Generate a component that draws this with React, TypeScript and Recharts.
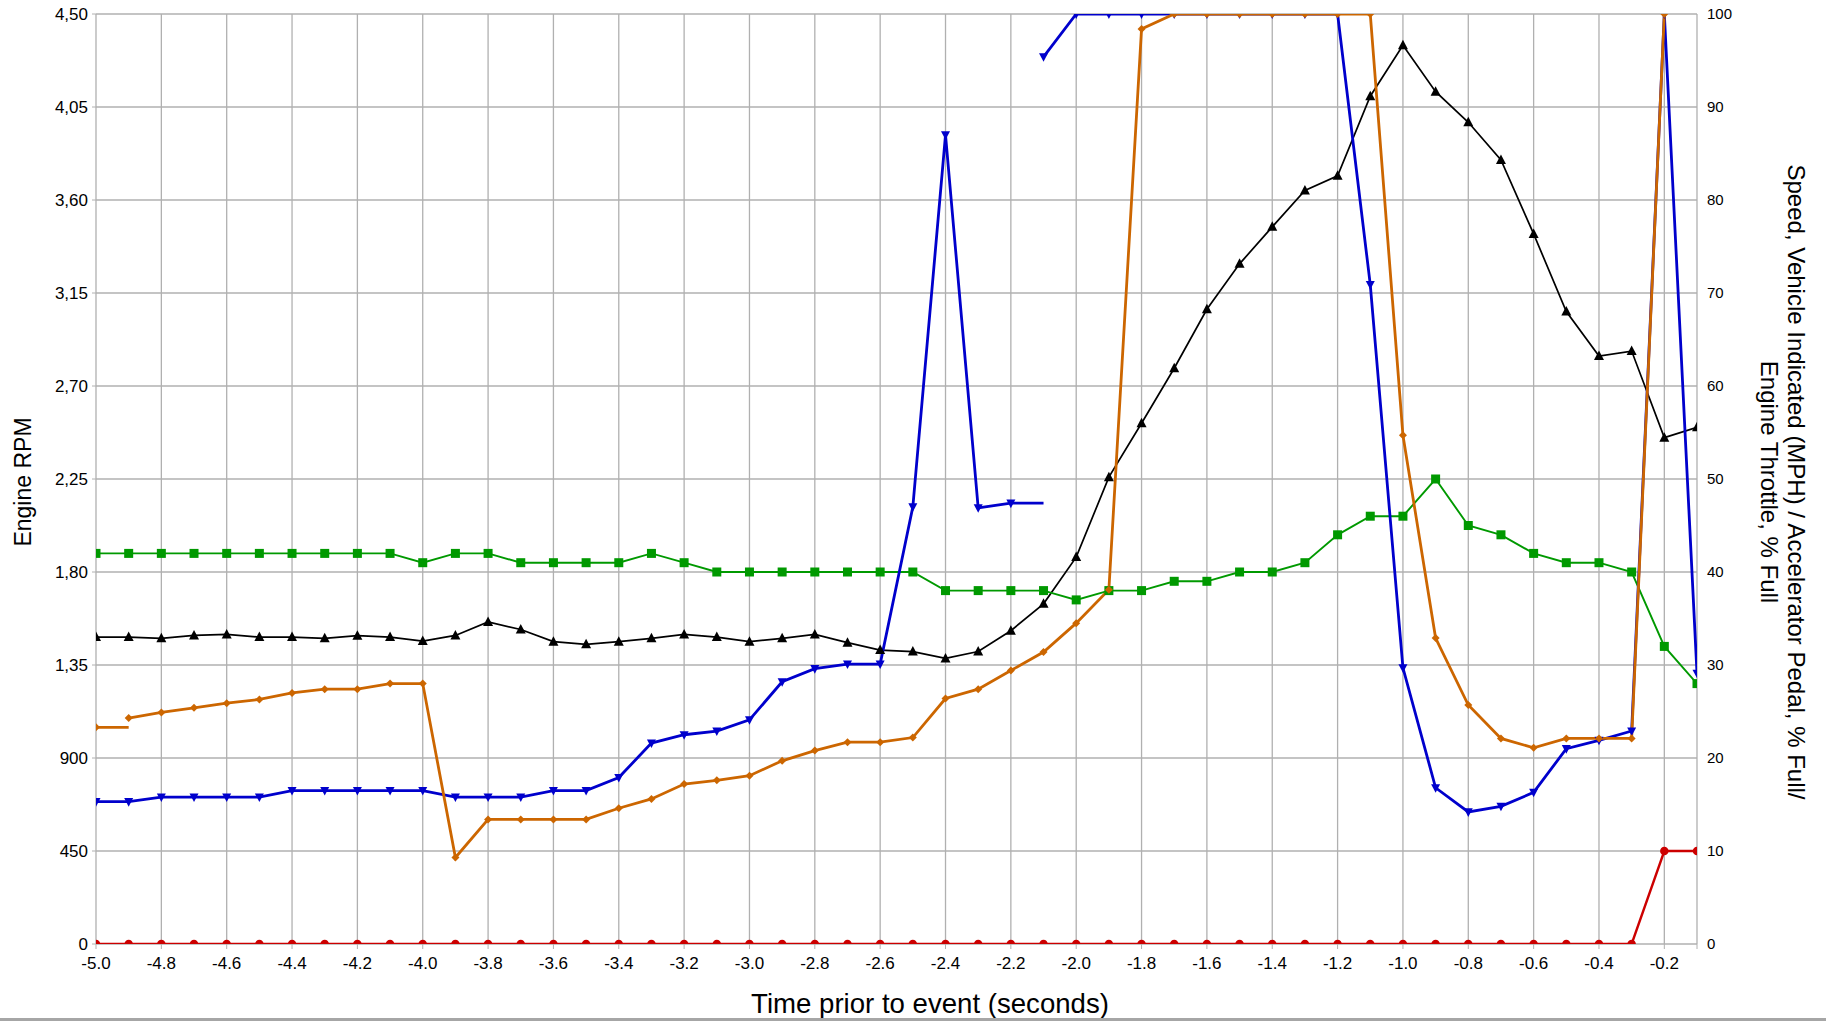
import React from "react";
import {
  LineChart,
  Line,
  XAxis,
  YAxis,
  CartesianGrid,
} from "recharts";

// time axis (seconds before the event)
const time = [
  -5.0, -4.9, -4.8, -4.7, -4.6, -4.5, -4.4, -4.3, -4.2, -4.1,
  -4.0, -3.9, -3.8, -3.7, -3.6, -3.5, -3.4, -3.3, -3.2, -3.1,
  -3.0, -2.9, -2.8, -2.7, -2.6, -2.5, -2.4, -2.3, -2.2, -2.1,
  -2.0, -1.9, -1.8, -1.7, -1.6, -1.5, -1.4, -1.3, -1.2, -1.1,
  -1.0, -0.9, -0.8, -0.7, -0.6, -0.5, -0.4, -0.3, -0.2, -0.1,
];

// Engine RPM (left axis)
const engineRpm = [
  1485, 1485, 1479, 1493, 1498, 1485, 1485, 1479, 1492, 1485,
  1466, 1493, 1558, 1522, 1463, 1450, 1463, 1479, 1498, 1485,
  1463, 1479, 1498, 1458, 1422, 1415, 1382, 1415, 1516, 1646,
  1872, 2259, 2520, 2786, 3071, 3291, 3470, 3646, 3717, 4102,
  4349, 4124, 3976, 3794, 3436, 3060, 2845, 2869, 2450, 2500,
];

// Speed, vehicle indicated (MPH)
const speed = [
  42, 42, 42, 42, 42, 42, 42, 42, 42, 42,
  41, 42, 42, 41, 41, 41, 41, 42, 41, 40,
  40, 40, 40, 40, 40, 40, 38, 38, 38, 38,
  37, 38, 38, 39, 39, 40, 40, 41, 44, 46,
  46, 50, 45, 44, 42, 41, 41, 40, 32, 28,
];

// Accelerator pedal, % full (two recorded runs)
const pedalEarly = [
  15.3, 15.3, 15.8, 15.8, 15.8, 15.8, 16.5, 16.5, 16.5, 16.5,
  16.5, 15.8, 15.8, 15.8, 16.5, 16.5, 17.9, 21.6, 22.5, 22.9,
  24.1, 28.2, 29.6, 30.1, 30.1, 47.0, 87.0, 46.9, 47.4, 47.4,
  null, null, null, null, null, null, null, null, null, null,
  null, null, null, null, null, null, null, null, null, null,
];
const pedalLate = [
  null, null, null, null, null, null, null, null, null, null,
  null, null, null, null, null, null, null, null, null, null,
  null, null, null, null, null, null, null, null, null, 95.4,
  100, 100, 100, 100, 100, 100, 100, 100, 100, 70.9,
  29.7, 16.8, 14.2, 14.8, 16.3, 21.0, 21.9, 22.9, 100, 29.1,
];

// Engine throttle, % full
const throttleEarly = [
  23.3, 23.3, null, null, null, null, null, null, null, null,
  null, null, null, null, null, null, null, null, null, null,
  null, null, null, null, null, null, null, null, null, null,
  null, null, null, null, null, null, null, null, null, null,
  null, null, null, null, null, null, null, null, null, null,
];
const throttleLate = [
  null, 24.3, 24.9, 25.4, 25.9, 26.3, 27.0, 27.4, 27.4, 28.0,
  28.0, 9.3, 13.4, 13.4, 13.4, 13.4, 14.6, 15.6, 17.2, 17.6,
  18.1, 19.7, 20.8, 21.7, 21.7, 22.2, 26.4, 27.4, 29.4, 31.4,
  34.5, 38.1, 98.4, 100, 100, 100, 100, 100, 100, 100,
  54.7, 32.9, 25.7, 22.1, 21.1, 22.1, 22.1, 22.1, 100, null,
];

// red trace
const brake = [
  0, 0, 0, 0, 0, 0, 0, 0, 0, 0,
  0, 0, 0, 0, 0, 0, 0, 0, 0, 0,
  0, 0, 0, 0, 0, 0, 0, 0, 0, 0,
  0, 0, 0, 0, 0, 0, 0, 0, 0, 0,
  0, 0, 0, 0, 0, 0, 0, 0, 10, 10,
];

const xTicks = [
  -5.0, -4.8, -4.6, -4.4, -4.2, -4.0, -3.8, -3.6, -3.4, -3.2, -3.0, -2.8, -2.6,
  -2.4, -2.2, -2.0, -1.8, -1.6, -1.4, -1.2, -1.0, -0.8, -0.6, -0.4, -0.2, -0.1,
];
const xTickLabels = [
  "-5.0", "-4.8", "-4.6", "-4.4", "-4.2", "-4.0", "-3.8", "-3.6", "-3.4", "-3.2",
  "-3.0", "-2.8", "-2.6", "-2.4", "-2.2", "-2.0", "-1.8", "-1.6", "-1.4", "-1.2",
  "-1.0", "-0.8", "-0.6", "-0.4", "-0.2", "",
];
const rpmTicks = [0, 450, 900, 1350, 1800, 2250, 2700, 3150, 3600, 4050, 4500];
const rpmTickLabels = ["0", "450", "900", "1,35", "1,80", "2,25", "2,70", "3,15", "3,60", "4,05", "4,50"];
const pctTicks = [0, 10, 20, 30, 40, 50, 60, 70, 80, 90, 100];

const rows = time.map((t, i) => ({
  t,
  rpm: engineRpm[i],
  speed: speed[i],
  pedalA: pedalEarly[i],
  pedalB: pedalLate[i],
  throttleA: throttleEarly[i],
  throttleB: throttleLate[i],
  brake: brake[i],
}));

const lastIndex = (arr: (number | null)[]) => {
  let k = -1;
  arr.forEach((v, i) => {
    if (v != null) k = i;
  });
  return k;
};

type Shape = "triUp" | "triDown" | "square" | "diamond" | "circle";

function makeDot(shape: Shape, size: number, color: string, hide: number[] = []) {
  return (props: any) => {
    const { cx, cy, index, value } = props;
    const key = `dot-${shape}-${index}`;
    if (value == null || cx == null || cy == null || isNaN(cy) || hide.includes(index)) {
      return <g key={key} />;
    }
    const h = size / 2;
    if (shape === "triUp") {
      return (
        <polygon key={key} fill={color}
          points={`${cx},${cy - h * 1.1} ${cx + h},${cy + h * 0.8} ${cx - h},${cy + h * 0.8}`} />
      );
    }
    if (shape === "triDown") {
      return (
        <polygon key={key} fill={color}
          points={`${cx},${cy + h * 1.1} ${cx + h},${cy - h * 0.8} ${cx - h},${cy - h * 0.8}`} />
      );
    }
    if (shape === "square") {
      return <rect key={key} x={cx - h} y={cy - h} width={size} height={size} fill={color} />;
    }
    if (shape === "diamond") {
      return (
        <polygon key={key} fill={color}
          points={`${cx},${cy - h} ${cx + h},${cy} ${cx},${cy + h} ${cx - h},${cy}`} />
      );
    }
    return <circle key={key} cx={cx} cy={cy} r={h} fill={color} />;
  };
}

const BLACK = "#000000";
const GREEN = "#009900";
const BLUE = "#0000cc";
const ORANGE = "#cc6600";
const RED = "#cc0000";
const GRID = "#b0b0b0";

export default function App() {
  const W = 1826;
  const H = 1022;
  const tickStyle = { fontSize: 17, fill: "#000" };
  return (
    <div
      style={{
        position: "absolute",
        left: 0,
        top: 0,
        width: W,
        height: H,
        background: "#fff",
        overflow: "hidden",
        fontFamily: "'Liberation Sans', Arial, sans-serif",
        color: "#000",
      }}
    >
      <LineChart width={W} height={H} data={rows} margin={{ top: 14, right: 0, bottom: 0, left: 0 }}>
        <CartesianGrid stroke={GRID} strokeWidth={1.3} />
        <XAxis
          dataKey="t"
          type="number"
          domain={[-5, -0.1]}
          allowDataOverflow
          ticks={xTicks}
          interval={0}
          tickFormatter={(v: number) => xTickLabels[xTicks.indexOf(v)] ?? ""}
          height={78}
          axisLine={false}
          tickLine={{ stroke: GRID }}
          tickSize={5}
          tickMargin={8}
          tick={tickStyle}
        />
        <YAxis
          domain={[0, 4500]}
          allowDataOverflow
          ticks={rpmTicks}
          interval={0}
          tickFormatter={(v: number) => rpmTickLabels[rpmTicks.indexOf(v)] ?? ""}
          width={96}
          axisLine={false}
          tickLine={{ stroke: GRID }}
          tickSize={4}
          tickMargin={4}
          tick={tickStyle}
        />
        <YAxis
          yAxisId="right"
          orientation="right"
          domain={[0, 100]}
          allowDataOverflow
          ticks={pctTicks}
          interval={0}
          width={129}
          axisLine={false}
          tickLine={false}
          tickSize={0}
          tickMargin={10}
          tick={{ fontSize: 15, fill: "#000" }}
        />
        <Line dataKey="rpm" stroke={BLACK} strokeWidth={1.7} isAnimationActive={false}
          dot={makeDot("triUp", 10, BLACK)} activeDot={false} />
        <Line yAxisId="right" dataKey="speed" stroke={GREEN} strokeWidth={1.9} isAnimationActive={false}
          dot={makeDot("square", 9, GREEN)} activeDot={false} />
        <Line yAxisId="right" dataKey="brake" stroke={RED} strokeWidth={2.4} isAnimationActive={false}
          dot={makeDot("circle", 8.5, RED)} activeDot={false} />
        <Line yAxisId="right" dataKey="pedalA" stroke={BLUE} strokeWidth={2.8} isAnimationActive={false}
          dot={makeDot("triDown", 9, BLUE, [lastIndex(pedalEarly)])} activeDot={false} />
        <Line yAxisId="right" dataKey="pedalB" stroke={BLUE} strokeWidth={2.8} isAnimationActive={false}
          dot={makeDot("triDown", 9, BLUE)} activeDot={false} />
        <Line yAxisId="right" dataKey="throttleA" stroke={ORANGE} strokeWidth={2.8} isAnimationActive={false}
          dot={makeDot("diamond", 8, ORANGE, [lastIndex(throttleEarly)])} activeDot={false} />
        <Line yAxisId="right" dataKey="throttleB" stroke={ORANGE} strokeWidth={2.8} isAnimationActive={false}
          dot={makeDot("diamond", 8, ORANGE)} activeDot={false} />
      </LineChart>

      <div
        style={{
          position: "absolute",
          left: 23,
          top: 482,
          transform: "translate(-50%, -50%) rotate(-90deg)",
          whiteSpace: "nowrap",
          fontSize: 23,
        }}
      >
        Engine RPM
      </div>
      <div
        style={{
          position: "absolute",
          left: 1783,
          top: 482,
          transform: "translate(-50%, -50%) rotate(90deg)",
          whiteSpace: "nowrap",
          textAlign: "center",
          fontSize: 24,
          lineHeight: "27px",
        }}
      >
        Speed, Vehicle Indicated (MPH) / Accelerator Pedal, % Full/
        <br />
        Engine Throttle, % Full
      </div>
      <div
        style={{
          position: "absolute",
          left: 930,
          top: 1004,
          transform: "translate(-50%, -50%)",
          whiteSpace: "nowrap",
          fontSize: 27.6,
        }}
      >
        Time prior to event (seconds)
      </div>
      <div
        style={{
          position: "absolute",
          left: 0,
          top: 1018,
          width: W,
          height: 3,
          background: "#a6a6a6",
        }}
      />
    </div>
  );
}
